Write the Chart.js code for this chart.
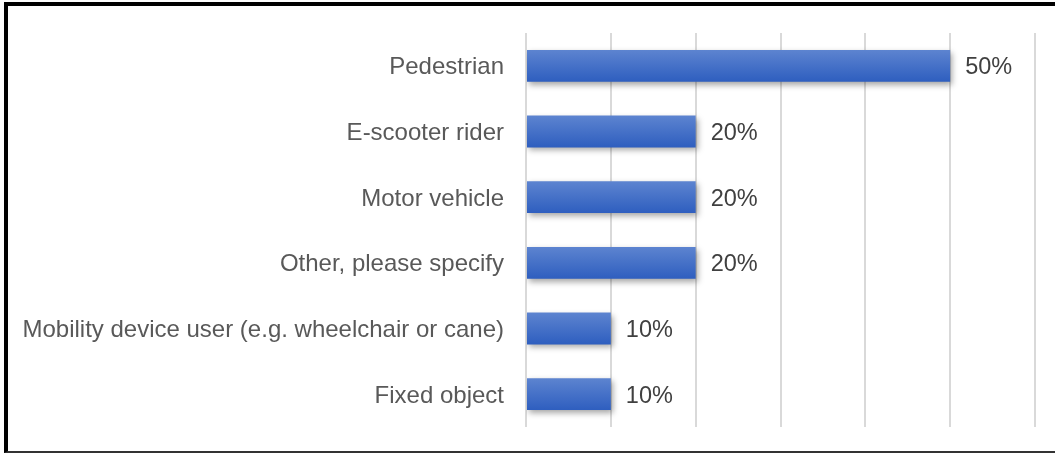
<!DOCTYPE html>
<html lang="en">
<head>
    <meta charset="UTF-8">
    <title>Respondents</title>
    <script src="https://cdn.jsdelivr.net/npm/chart.js"></script>
    <style>
        html, body { margin: 0; padding: 0; background: #fff; }
        #marco {
            position: absolute; left: 4px; top: 2px; width: 1051px; height: 451px;
            border-left: 4px solid #000; border-top: 4px solid #000; border-bottom: 2px solid #333;
            box-sizing: border-box;
        }
        #wrap { position: absolute; left: 0; top: 0; width: 1055px; height: 456px; }
    </style>
</head>
<body>
    <div id="marco"></div>
    <div id="wrap"><canvas id="grafico"></canvas></div>

    <script>
        const categorias = ['Pedestrian', 'E-scooter rider', 'Motor vehicle', 'Other, please specify',
            'Mobility device user (e.g. wheelchair or cane)', 'Fixed object'];
        const valores = [50, 20, 20, 20, 10, 10];
        const etiquetas = ['50%', '20%', '20%', '20%', '10%', '10%'];

        // sombra debajo de las barras
        const sombra = {
            id: 'sombra',
            beforeDatasetsDraw(chart) {
                const ctx = chart.ctx;
                ctx.save();
                ctx.shadowColor = 'rgba(0, 0, 0, 0.35)';
                ctx.shadowBlur = 6;
                ctx.shadowOffsetX = 2;
                ctx.shadowOffsetY = 3;
            },
            afterDatasetsDraw(chart) {
                chart.ctx.restore();
            }
        };

        // porcentajes al final de cada barra
        const valoresTexto = {
            id: 'valoresTexto',
            afterDatasetsDraw(chart) {
                const ctx = chart.ctx;
                ctx.save();
                ctx.font = '23.5px "Liberation Sans", Arial, sans-serif';
                ctx.fillStyle = '#404040';
                ctx.textBaseline = 'middle';
                chart.getDatasetMeta(0).data.forEach((bar, i) => {
                    ctx.fillText(etiquetas[i], bar.x + 15, bar.y + 2);
                });
                ctx.restore();
            }
        };

        function degradado(context) {
            const chart = context.chart;
            const y = chart.scales.y;
            if (!chart.chartArea || !y) return '#4472c4';
            const centro = y.getPixelForValue(context.dataIndex);
            const g = chart.ctx.createLinearGradient(0, centro - 16, 0, centro + 16);
            g.addColorStop(0, '#5d84d0');
            g.addColorStop(1, '#2e5ebf');
            return g;
        }

        const ctx = document.getElementById('grafico').getContext('2d');
        new Chart(ctx, {
            type: 'bar',
            data: {
                labels: categorias,
                datasets: [{
                    data: valores,
                    backgroundColor: degradado,
                    borderWidth: 0,
                    categoryPercentage: 0.97,
                    barPercentage: 0.5
                }]
            },
            options: {
                indexAxis: 'y',
                responsive: true,
                maintainAspectRatio: false,
                animation: false,
                layout: { padding: { top: 33, bottom: 29, right: 20, left: 0 } },
                plugins: {
                    legend: { display: false },
                    tooltip: { enabled: false }
                },
                scales: {
                    x: {
                        min: 0,
                        max: 60,
                        ticks: { display: false, stepSize: 10 },
                        grid: { color: '#d9d9d9', lineWidth: 2, drawTicks: false },
                        border: { display: false },
                        afterFit(scale) { scale.height = 0; scale.paddingLeft = 0; scale.paddingRight = 0; }
                    },
                    y: {
                        grid: { display: false, drawTicks: false },
                        border: { display: false },
                        ticks: {
                            padding: 22,
                            labelOffset: 2,
                            color: '#595959',
                            font: { family: '"Liberation Sans", Arial, sans-serif', size: 24 }
                        },
                        afterFit(scale) { scale.width = 526; scale.paddingTop = 0; scale.paddingBottom = 0; }
                    }
                }
            },
            plugins: [sombra, valoresTexto]
        });
    </script>
</body>
</html>
